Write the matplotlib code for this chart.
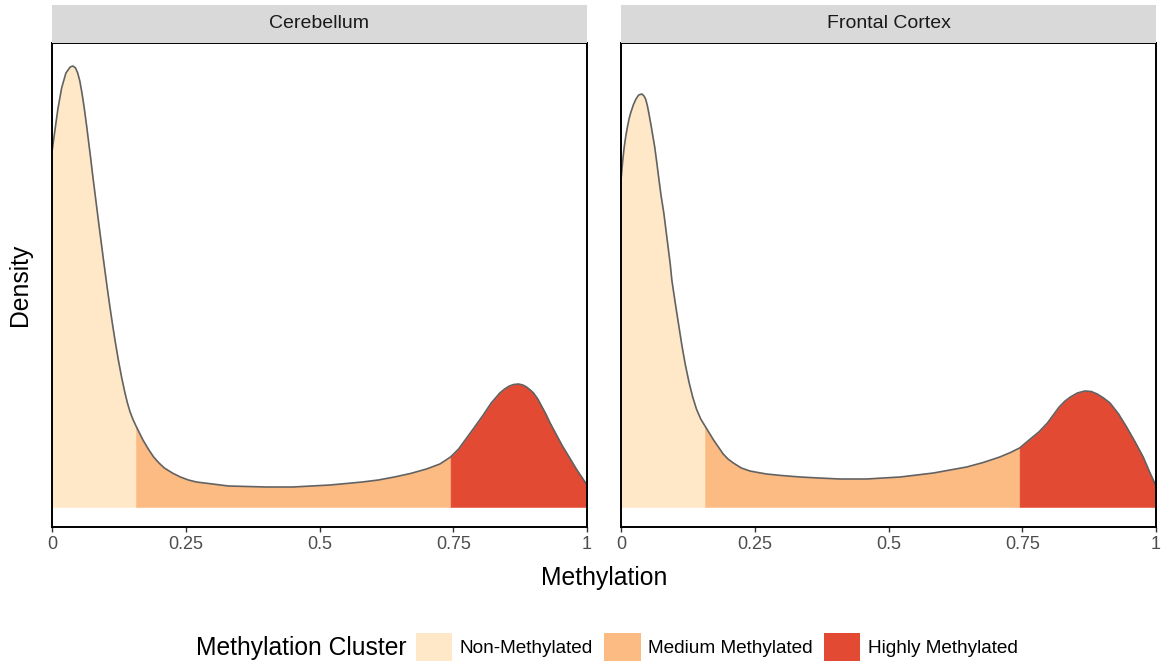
import numpy as np
import matplotlib.pyplot as plt
from matplotlib.patches import Patch

plt.rcParams['font.family'] = ['Liberation Sans', 'DejaVu Sans']

TISSUES = ["Cerebellum", "Frontal Cortex"]

# density curves, methylation level -> density (sampled along the curve)
cereb_meth = [0.000, 0.004, 0.011, 0.018, 0.026, 0.034, 0.039, 0.044, 0.048, 0.052,
              0.056, 0.060, 0.065, 0.068, 0.072, 0.076, 0.080, 0.084, 0.088, 0.092,
              0.096, 0.100, 0.103, 0.108, 0.113, 0.118, 0.124, 0.130, 0.136, 0.141,
              0.146, 0.151, 0.157, 0.163, 0.170, 0.180, 0.190, 0.200, 0.210, 0.225,
              0.240, 0.255, 0.270, 0.300, 0.330, 0.365, 0.400, 0.450, 0.485, 0.520,
              0.550, 0.580, 0.610, 0.640, 0.670, 0.700, 0.725, 0.745, 0.760, 0.775,
              0.790, 0.806, 0.821, 0.837, 0.846, 0.855, 0.863, 0.872, 0.880, 0.887,
              0.894, 0.900, 0.908, 0.915, 0.923, 0.931, 0.938, 0.946, 0.954, 0.962,
              0.971, 0.980, 0.990, 1.000]
cereb_dens = [3.55, 3.71, 3.98, 4.19, 4.34, 4.40, 4.41, 4.39, 4.34, 4.26,
              4.14, 4.00, 3.80, 3.67, 3.50, 3.32, 3.15, 2.98, 2.81, 2.645,
              2.48, 2.32, 2.20, 2.01, 1.83, 1.66, 1.47, 1.30, 1.15, 1.04,
              0.95, 0.88, 0.81, 0.745, 0.67, 0.58, 0.50, 0.44, 0.39, 0.34,
              0.30, 0.27, 0.25, 0.23, 0.21, 0.205, 0.20, 0.20, 0.21, 0.22,
              0.235, 0.25, 0.27, 0.30, 0.335, 0.38, 0.43, 0.50, 0.58, 0.69,
              0.80, 0.92, 1.04, 1.14, 1.18, 1.21, 1.225, 1.23, 1.22, 1.20,
              1.17, 1.14, 1.08, 1.01, 0.93, 0.84, 0.77, 0.69, 0.61, 0.54,
              0.46, 0.38, 0.30, 0.22]

front_meth = [0.000, 0.003, 0.006, 0.009, 0.012, 0.015, 0.018, 0.023, 0.028, 0.033,
              0.039, 0.043, 0.046, 0.049, 0.052, 0.057, 0.063, 0.067, 0.071, 0.075,
              0.080, 0.084, 0.088, 0.092, 0.095, 0.100, 0.104, 0.109, 0.114, 0.120,
              0.127, 0.134, 0.141, 0.149, 0.157, 0.165, 0.173, 0.182, 0.191, 0.200,
              0.210, 0.225, 0.241, 0.256, 0.272, 0.300, 0.335, 0.370, 0.409, 0.459,
              0.490, 0.522, 0.553, 0.584, 0.615, 0.646, 0.677, 0.708, 0.728, 0.745,
              0.765, 0.781, 0.797, 0.808, 0.819, 0.830, 0.840, 0.853, 0.867, 0.879,
              0.890, 0.902, 0.914, 0.930, 0.945, 0.961, 0.976, 0.988, 1.000]
front_dens = [3.27, 3.45, 3.60, 3.71, 3.80, 3.88, 3.94, 4.02, 4.08, 4.12,
              4.13, 4.11, 4.08, 4.02, 3.94, 3.79, 3.60, 3.44, 3.27, 3.11,
              2.94, 2.77, 2.60, 2.43, 2.27, 2.09, 1.95, 1.78, 1.61, 1.43,
              1.25, 1.10, 0.98, 0.88, 0.81, 0.74, 0.67, 0.60, 0.53, 0.48,
              0.44, 0.39, 0.36, 0.345, 0.33, 0.315, 0.30, 0.29, 0.28, 0.28,
              0.29, 0.30, 0.32, 0.34, 0.37, 0.40, 0.445, 0.50, 0.545, 0.59,
              0.68, 0.75, 0.84, 0.92, 1.00, 1.06, 1.10, 1.14, 1.16, 1.155,
              1.13, 1.09, 1.04, 0.93, 0.80, 0.65, 0.50, 0.35, 0.21]

CLUSTERS = ["Non-Methylated", "Medium Methylated", "Highly Methylated"]
CLUSTER_CUTS = [0.157, 0.745]
CLUSTER_COLORS = ["#FEE8C8", "#FDBB84", "#E34A33"]

X_TICKS = [0, 0.25, 0.5, 0.75, 1]
X_TICK_LABELS = ["0", "0.25", "0.5", "0.75", "1"]

W, H = 1164, 667


def plot_panel(ax, meth, dens):
    meth = np.asarray(meth)
    dens = np.asarray(dens)
    edges = [0.0] + CLUSTER_CUTS + [1.0]
    for i, color in enumerate(CLUSTER_COLORS):
        sel = (meth >= edges[i]) & (meth <= edges[i + 1])
        ax.fill_between(meth[sel], 0, dens[sel], facecolor=color,
                        edgecolor=color, linewidth=0.4)
    ax.plot(meth, dens, color="#626262", lw=1.2, solid_joinstyle="round")

    ax.set_xlim(0, 1)
    ax.set_ylim(-0.20, 4.64)
    ax.set_yticks([])
    ax.set_xticks(X_TICKS)
    ax.set_xticklabels(X_TICK_LABELS)
    ax.tick_params(axis="x", length=3.5, width=1.0, color="#333333",
                   labelcolor="#4D4D4D", labelsize=13, pad=3)
    for sp in ax.spines.values():
        sp.set_color("black")
        sp.set_linewidth(1.4)


def main():
    fig = plt.figure(figsize=(W / 100, H / 100), dpi=100)

    panels = [(52, cereb_meth, cereb_dens), (621, front_meth, front_dens)]
    for (x0, meth, dens), name in zip(panels, TISSUES):
        ax = fig.add_axes([x0 / W, 1 - 527 / H, 535 / W, 484 / H])
        plot_panel(ax, meth, dens)

        strip = fig.add_axes([x0 / W, 1 - 43 / H, 535 / W, 38 / H])
        strip.set_facecolor("#D9D9D9")
        strip.set_xticks([])
        strip.set_yticks([])
        for sp in strip.spines.values():
            sp.set_visible(False)
        strip.text(0.5, 0.5, name, ha="center", va="center", fontsize=14,
                   color="#1A1A1A", transform=strip.transAxes)

    fig.text(604 / W, 1 - 578 / H, "Methylation", ha="center", va="center",
             fontsize=17.8)
    fig.text(20 / W, 1 - 285 / H, "Density", ha="center", va="center",
             rotation=90, fontsize=17.8)

    # legend along the bottom, title on the left
    fig.text(196 / W, 1 - 648 / H, "Methylation Cluster", ha="left",
             va="center", fontsize=17.7)
    handles = [Patch(facecolor=c, edgecolor="none") for c in CLUSTER_COLORS]
    fig.legend(handles, CLUSTERS, loc="center left",
               bbox_to_anchor=(416 / W, 1 - 647 / H), ncol=3, frameon=False,
               fontsize=13.7, handlelength=1.9, handleheight=1.9,
               handletextpad=0.4, columnspacing=0.6, borderpad=0,
               borderaxespad=0)

    fig.savefig("out.png", dpi=100)
    plt.close(fig)


if __name__ == "__main__":
    main()
